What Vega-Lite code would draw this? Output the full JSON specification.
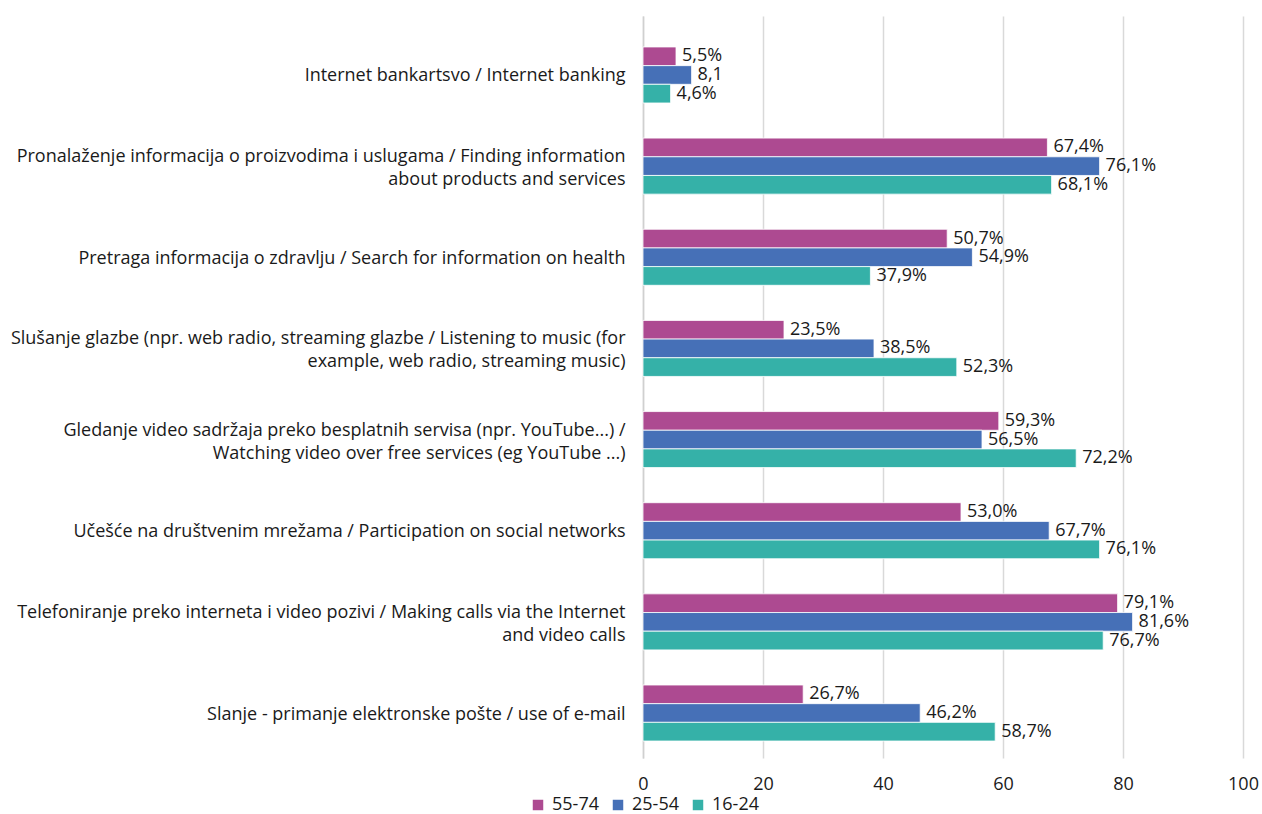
{
  "$schema": "https://vega.github.io/schema/vega-lite/v6.json",
  "width": 600,
  "height": 742,
  "autosize": {"type": "none"},
  "padding": {"left": 643, "top": 16, "right": 19, "bottom": 56},
  "background": "white",
  "config": {
    "view": {"stroke": null},
    "font": "Open Sans",
    "text": {"font": "Open Sans"}
  },
  "data": {
    "values": [
      {"category": "Internet bankartsvo / Internet banking", "group": "55-74", "value": 5.5, "label": "5,5%"},
      {"category": "Internet bankartsvo / Internet banking", "group": "25-54", "value": 8.1, "label": "8,1"},
      {"category": "Internet bankartsvo / Internet banking", "group": "16-24", "value": 4.6, "label": "4,6%"},
      {"category": "Pronalaženje informacija o proizvodima i uslugama / Finding information\nabout products and services", "group": "55-74", "value": 67.4, "label": "67,4%"},
      {"category": "Pronalaženje informacija o proizvodima i uslugama / Finding information\nabout products and services", "group": "25-54", "value": 76.1, "label": "76,1%"},
      {"category": "Pronalaženje informacija o proizvodima i uslugama / Finding information\nabout products and services", "group": "16-24", "value": 68.1, "label": "68,1%"},
      {"category": "Pretraga informacija o zdravlju / Search for information on health", "group": "55-74", "value": 50.7, "label": "50,7%"},
      {"category": "Pretraga informacija o zdravlju / Search for information on health", "group": "25-54", "value": 54.9, "label": "54,9%"},
      {"category": "Pretraga informacija o zdravlju / Search for information on health", "group": "16-24", "value": 37.9, "label": "37,9%"},
      {"category": "Slušanje glazbe (npr. web radio, streaming glazbe / Listening to music (for\nexample, web radio, streaming music)", "group": "55-74", "value": 23.5, "label": "23,5%"},
      {"category": "Slušanje glazbe (npr. web radio, streaming glazbe / Listening to music (for\nexample, web radio, streaming music)", "group": "25-54", "value": 38.5, "label": "38,5%"},
      {"category": "Slušanje glazbe (npr. web radio, streaming glazbe / Listening to music (for\nexample, web radio, streaming music)", "group": "16-24", "value": 52.3, "label": "52,3%"},
      {"category": "Gledanje video sadržaja preko besplatnih servisa (npr. YouTube...) /\nWatching video over free services (eg YouTube ...)", "group": "55-74", "value": 59.3, "label": "59,3%"},
      {"category": "Gledanje video sadržaja preko besplatnih servisa (npr. YouTube...) /\nWatching video over free services (eg YouTube ...)", "group": "25-54", "value": 56.5, "label": "56,5%"},
      {"category": "Gledanje video sadržaja preko besplatnih servisa (npr. YouTube...) /\nWatching video over free services (eg YouTube ...)", "group": "16-24", "value": 72.2, "label": "72,2%"},
      {"category": "Učešće na društvenim mrežama / Participation on social networks", "group": "55-74", "value": 53.0, "label": "53,0%"},
      {"category": "Učešće na društvenim mrežama / Participation on social networks", "group": "25-54", "value": 67.7, "label": "67,7%"},
      {"category": "Učešće na društvenim mrežama / Participation on social networks", "group": "16-24", "value": 76.1, "label": "76,1%"},
      {"category": "Telefoniranje preko interneta i video pozivi / Making calls via the Internet\nand video calls", "group": "55-74", "value": 79.1, "label": "79,1%"},
      {"category": "Telefoniranje preko interneta i video pozivi / Making calls via the Internet\nand video calls", "group": "25-54", "value": 81.6, "label": "81,6%"},
      {"category": "Telefoniranje preko interneta i video pozivi / Making calls via the Internet\nand video calls", "group": "16-24", "value": 76.7, "label": "76,7%"},
      {"category": "Slanje - primanje elektronske pošte / use of e-mail", "group": "55-74", "value": 26.7, "label": "26,7%"},
      {"category": "Slanje - primanje elektronske pošte / use of e-mail", "group": "25-54", "value": 46.2, "label": "46,2%"},
      {"category": "Slanje - primanje elektronske pošte / use of e-mail", "group": "16-24", "value": 58.7, "label": "58,7%"}
    ]
  },
  "encoding": {
    "y": {
      "field": "category",
      "type": "nominal",
      "sort": null,
      "scale": {"type": "band", "paddingInner": 0.3855, "paddingOuter": 0.263, "align": 0.646},
      "axis": {
        "title": null,
        "ticks": false,
        "domain": true,
        "domainColor": "#d0d0d0",
        "domainWidth": 1.5,
        "labelFont": "Open Sans",
        "labelFontSize": 18,
        "labelColor": "#1a1a1a",
        "labelPadding": 18,
        "labelLimit": 700,
        "labelLineHeight": 23,
        "labelOffset": {"condition": {"test": "indexof(datum.value, '\\n') >= 0", "value": -9}, "value": 1.5},
        "labelExpr": "split(datum.label, '\\n')"
      }
    },
    "yOffset": {
      "field": "group",
      "type": "nominal",
      "sort": ["55-74", "25-54", "16-24"],
      "scale": {"paddingInner": 0, "paddingOuter": 0}
    },
    "x": {
      "field": "value",
      "type": "quantitative",
      "scale": {"domain": [0, 100], "nice": false},
      "axis": {
        "title": null,
        "values": [0, 20, 40, 60, 80, 100],
        "domain": false,
        "ticks": false,
        "grid": true,
        "gridColor": "#d9d9d9",
        "gridWidth": 1.5,
        "labelFlush": false,
        "labelFont": "Open Sans",
        "labelFontSize": 18,
        "labelColor": "#1a1a1a",
        "labelPadding": 17
      }
    }
  },
  "layer": [
    {
      "mark": {"type": "bar", "stroke": "white", "strokeWidth": 0.8},
      "encoding": {
        "color": {
          "field": "group",
          "type": "nominal",
          "sort": ["55-74", "25-54", "16-24"],
          "scale": {"domain": ["55-74", "25-54", "16-24"], "range": ["#AD4A91", "#4670B7", "#35B1A8"]},
          "legend": {
            "title": null,
            "orient": "none",
            "direction": "horizontal",
            "legendX": -114,
            "legendY": 780,
            "symbolType": "square",
            "symbolSize": 110,
            "symbolStrokeWidth": 0,
            "labelFont": "Open Sans",
            "labelFontSize": 18,
            "labelColor": "#1a1a1a",
            "labelOffset": 5,
            "columnPadding": 10
          }
        }
      }
    },
    {
      "mark": {"type": "text", "align": "left", "baseline": "middle", "dx": 6, "font": "Open Sans", "fontSize": 18, "color": "#1a1a1a"},
      "encoding": {
        "text": {"field": "label", "type": "nominal"}
      }
    }
  ]
}
